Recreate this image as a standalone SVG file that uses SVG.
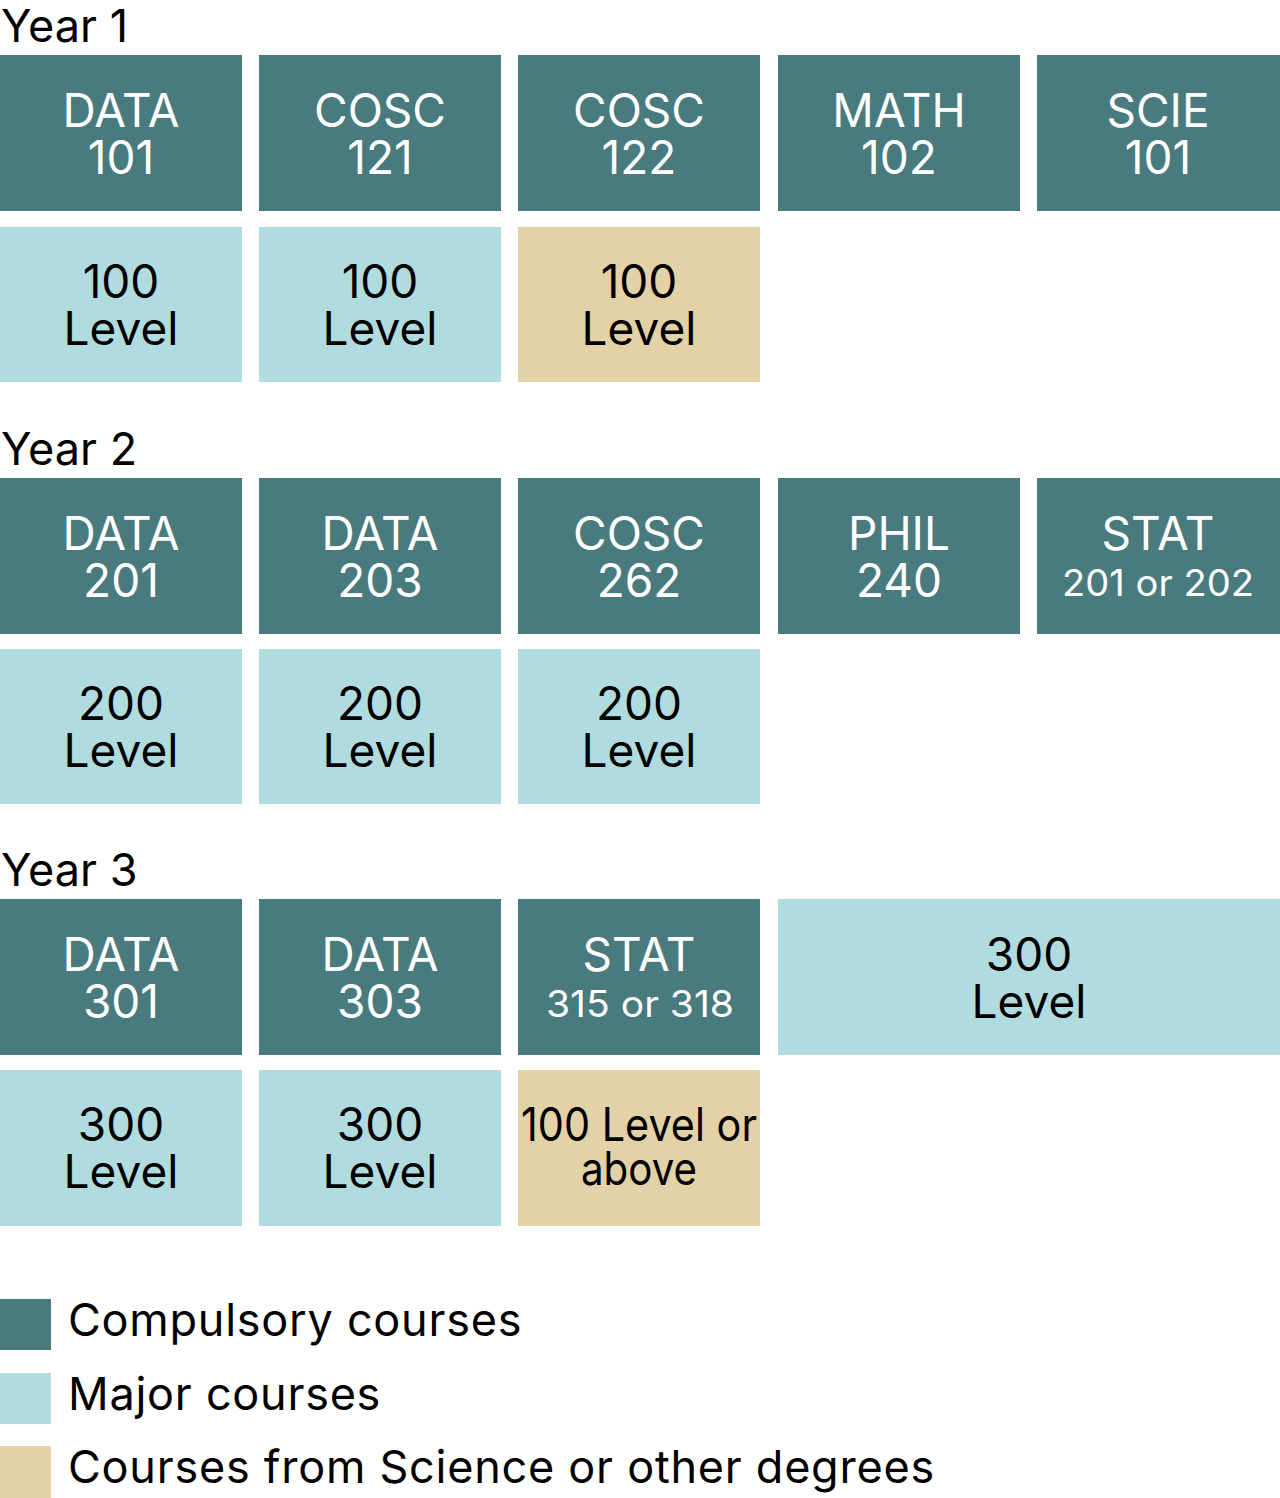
<svg xmlns="http://www.w3.org/2000/svg" width="1280" height="1498" viewBox="0 0 1280 1498">
<style>
.c{fill:#487a7e}
.m{fill:#b0dcdf}
.o{fill:#e3d2a7}
text{font-family:Inter,"Noto Sans","Liberation Sans",sans-serif;font-size:46px;text-anchor:middle}
.w{fill:#ffffff}
.k{fill:#000000}
.s{font-size:37px}
.y{text-anchor:start;font-size:45px;fill:#000}
.l{text-anchor:start;font-size:45px;fill:#000;letter-spacing:0.75px}
</style>
<rect width="1280" height="1498" fill="#ffffff"/>
<g id="year1">
<text class="y" x="1" y="42">Year 1</text>
<g id="data101"><rect class="c" x="0" y="55" width="242" height="156"/><text class="w" x="121" y="127">DATA</text><text class="w" x="121" y="174">101</text></g>
<g id="cosc121"><rect class="c" x="259" y="55" width="242" height="156"/><text class="w" x="380" y="127">COSC</text><text class="w" x="380" y="174">121</text></g>
<g id="cosc122"><rect class="c" x="518" y="55" width="242" height="156"/><text class="w" x="639" y="127">COSC</text><text class="w" x="639" y="174">122</text></g>
<g id="math102"><rect class="c" x="778" y="55" width="242" height="156"/><text class="w" x="899" y="127">MATH</text><text class="w" x="899" y="174">102</text></g>
<g id="scie101"><rect class="c" x="1037" y="55" width="243" height="156"/><text class="w" x="1158" y="127">SCIE</text><text class="w" x="1158" y="174">101</text></g>
<g id="y1m1"><rect class="m" x="0" y="227" width="242" height="155"/><text class="k" x="121" y="298">100</text><text class="k" x="121" y="345">Level</text></g>
<g id="y1m2"><rect class="m" x="259" y="227" width="242" height="155"/><text class="k" x="380" y="298">100</text><text class="k" x="380" y="345">Level</text></g>
<g id="y1o1"><rect class="o" x="518" y="227" width="242" height="155"/><text class="k" x="639" y="298">100</text><text class="k" x="639" y="345">Level</text></g>
</g>
<g id="year2">
<text class="y" x="1" y="465">Year 2</text>
<g id="data201"><rect class="c" x="0" y="478" width="242" height="156"/><text class="w" x="121" y="550">DATA</text><text class="w" x="121" y="597">201</text></g>
<g id="data203"><rect class="c" x="259" y="478" width="242" height="156"/><text class="w" x="380" y="550">DATA</text><text class="w" x="380" y="597">203</text></g>
<g id="cosc262"><rect class="c" x="518" y="478" width="242" height="156"/><text class="w" x="639" y="550">COSC</text><text class="w" x="639" y="597">262</text></g>
<g id="phil240"><rect class="c" x="778" y="478" width="242" height="156"/><text class="w" x="899" y="550">PHIL</text><text class="w" x="899" y="597">240</text></g>
<g id="stat201"><rect class="c" x="1037" y="478" width="243" height="156"/><text class="w" x="1158" y="550">STAT</text><text class="w s" x="1158" y="596" textLength="192" lengthAdjust="spacingAndGlyphs">201 or 202</text></g>
<g id="y2m1"><rect class="m" x="0" y="649" width="242" height="155"/><text class="k" x="121" y="720">200</text><text class="k" x="121" y="767">Level</text></g>
<g id="y2m2"><rect class="m" x="259" y="649" width="242" height="155"/><text class="k" x="380" y="720">200</text><text class="k" x="380" y="767">Level</text></g>
<g id="y2m3"><rect class="m" x="518" y="649" width="242" height="155"/><text class="k" x="639" y="720">200</text><text class="k" x="639" y="767">Level</text></g>
</g>
<g id="year3">
<text class="y" x="1" y="886">Year 3</text>
<g id="data301"><rect class="c" x="0" y="899" width="242" height="156"/><text class="w" x="121" y="971">DATA</text><text class="w" x="121" y="1018">301</text></g>
<g id="data303"><rect class="c" x="259" y="899" width="242" height="156"/><text class="w" x="380" y="971">DATA</text><text class="w" x="380" y="1018">303</text></g>
<g id="stat315"><rect class="c" x="518" y="899" width="242" height="156"/><text class="w" x="639" y="971">STAT</text><text class="w s" x="640" y="1017" textLength="188" lengthAdjust="spacingAndGlyphs">315 or 318</text></g>
<g id="y3m4"><rect class="m" x="778" y="899" width="502" height="156"/><text class="k" x="1029" y="971">300</text><text class="k" x="1029" y="1018">Level</text></g>
<g id="y3m1"><rect class="m" x="0" y="1070" width="242" height="156"/><text class="k" x="121" y="1141">300</text><text class="k" x="121" y="1188">Level</text></g>
<g id="y3m2"><rect class="m" x="259" y="1070" width="242" height="156"/><text class="k" x="380" y="1141">300</text><text class="k" x="380" y="1188">Level</text></g>
<g id="y3o1"><rect class="o" x="518" y="1070" width="242" height="156"/><text class="k" x="639" y="1141" font-size="42" textLength="236" lengthAdjust="spacingAndGlyphs">100 Level or</text><text class="k" x="639" y="1185" font-size="42" textLength="116" lengthAdjust="spacingAndGlyphs">above</text></g>
</g>
<g id="legend">
<g id="leg-c"><rect class="c" x="0" y="1299" width="51" height="51"/><text class="l" x="68" y="1336">Compulsory courses</text></g>
<g id="leg-m"><rect class="m" x="0" y="1373" width="51" height="51"/><text class="l" x="68" y="1410">Major courses</text></g>
<g id="leg-o"><rect class="o" x="0" y="1446" width="51" height="52"/><text class="l" x="68" y="1483">Courses from Science or other degrees</text></g>
</g>
<g id="connectors"/>
</svg>
